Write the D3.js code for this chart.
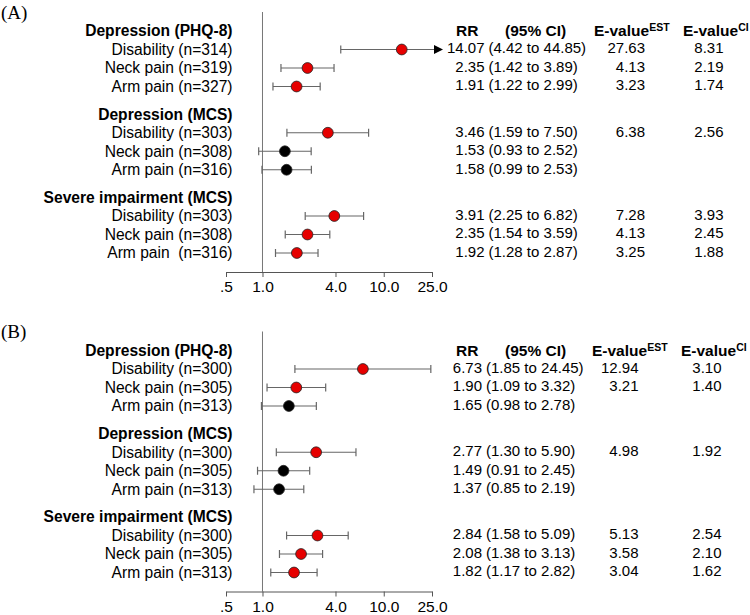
<!DOCTYPE html>
<html><head><meta charset="utf-8">
<script src="https://cdn.jsdelivr.net/npm/d3@7"></script>
<style>
html,body{margin:0;padding:0;background:#fff;}
text{font-family:"Liberation Sans",Arial,sans-serif;fill:#000;}
</style></head>
<body><svg id="chart" width="750" height="615"></svg>
<script>
// ---- data ----
const panelLabels = ["(A)", "(B)"];
const groups = ["Depression (PHQ-8)", "Depression (MCS)", "Severe impairment (MCS)"];
const outcomeLabelsA = ["Disability (n=314)", "Neck pain (n=319)", "Arm pain (n=327)",
  "Disability (n=303)", "Neck pain (n=308)", "Arm pain (n=316)",
  "Disability (n=303)", "Neck pain (n=308)", "Arm pain  (n=316)"];
const outcomeLabelsB = ["Disability (n=300)", "Neck pain (n=305)", "Arm pain (n=313)",
  "Disability (n=300)", "Neck pain (n=305)", "Arm pain (n=313)",
  "Disability (n=300)", "Neck pain (n=305)", "Arm pain (n=313)"];
const rrA = [14.07, 2.35, 1.91, 3.46, 1.53, 1.58, 3.91, 2.35, 1.92];
const loA = [4.42, 1.42, 1.22, 1.59, 0.93, 0.99, 2.25, 1.54, 1.28];
const hiA = [44.85, 3.89, 2.99, 7.50, 2.52, 2.53, 6.82, 3.59, 2.87];
const eEstA = ["27.63", "4.13", "3.23", "6.38", "", "", "7.28", "4.13", "3.25"];
const eCiA = ["8.31", "2.19", "1.74", "2.56", "", "", "3.93", "2.45", "1.88"];
const rrB = [6.73, 1.90, 1.65, 2.77, 1.49, 1.37, 2.84, 2.08, 1.82];
const loB = [1.85, 1.09, 0.98, 1.30, 0.91, 0.85, 1.58, 1.38, 1.17];
const hiB = [24.45, 3.32, 2.78, 5.90, 2.45, 2.19, 5.09, 3.13, 2.82];
const eEstB = ["12.94", "3.21", "", "4.98", "", "", "5.13", "3.58", "3.04"];
const eCiB = ["3.10", "1.40", "", "1.92", "", "", "2.54", "2.10", "1.62"];
const tickValues = [0.5, 1, 4, 10, 25];
const tickLabels = [".5", "1.0", "4.0", "10.0", "25.0"];

// ---- layout ----
const svg = d3.select("#chart");
const x = d3.scaleLog().domain([0.5, 25]).range([226, 432]);
const fmt = v => v.toFixed(2);
const panels = [
  {label: panelLabels[0], labels: outcomeLabelsA, rr: rrA, lo: loA, hi: hiA, eEst: eEstA, eCi: eCiA, off: 0,
   col: {rrEnd: 484.5, ciStart: 488.5, estEnd: 645, ciEnd: 723.5, hRR: 456, hCI: 505, hEst: 594, hECI: 683}},
  {label: panelLabels[1], labels: outcomeLabelsB, rr: rrB, lo: loB, hi: hiB, eEst: eEstB, eCi: eCiB, off: 319.5,
   col: {rrEnd: 482, ciStart: 486, estEnd: 638.5, ciEnd: 721.5, hRR: 456, hCI: 505, hEst: 592, hECI: 681}}
];
// slot positions: header, 3 rows, gap, header, ...
const headerSlots = [0, 4.5, 9];
const rowSlots = [1, 2, 3, 5.5, 6.5, 7.5, 10, 11, 12];

panels.forEach(p => {
  const g = svg.append("g");
  const y = d3.scaleLinear().domain([0, 12]).range([31 + p.off, 253 + p.off]);

  g.append("text").attr("x", 1).attr("y", 12 + p.off).attr("dy", "0.35em")
    .style("font-family", "'Liberation Serif','Times New Roman',serif").style("font-size", "19px")
    .text(p.label);

  // reference line at 1
  g.append("line").attr("x1", x(1)).attr("x2", x(1))
    .attr("y1", 12 + p.off).attr("y2", 272 + p.off)
    .attr("stroke", "#777").attr("stroke-width", 1);

  // axis
  const axis = d3.axisBottom(x).tickValues(tickValues)
    .tickFormat((d, i) => tickLabels[i]).tickSizeOuter(0).tickSizeInner(5).tickPadding(4);
  const ag = g.append("g").attr("transform", `translate(0,${272 + p.off})`).call(axis);
  ag.select(".domain").attr("stroke", "#555");
  ag.selectAll(".tick line").attr("stroke", "#555");
  ag.selectAll(".tick text").style("font-size", "15.5px").style("font-family", "'Liberation Sans',Arial,sans-serif").attr("fill", "#000");

  // group headers
  g.selectAll(".gh").data(groups).join("text")
    .attr("x", 232.5).attr("y", (d, i) => y(headerSlots[i])).attr("dy", "0.35em")
    .attr("text-anchor", "end").style("font-size", "15.6px").style("font-weight", "bold")
    .text(d => d);

  // row labels
  g.selectAll(".rl").data(p.labels).join("text")
    .attr("x", 232.5).attr("y", (d, i) => y(rowSlots[i])).attr("dy", "0.35em")
    .attr("text-anchor", "end").style("font-size", "15.6px").style("white-space", "pre")
    .attr("xml:space", "preserve")
    .text(d => d);

  // CIs
  const capMax = x(25) + 2;
  p.rr.forEach((r, i) => {
    const yy = y(rowSlots[i]);
    const x1 = x(p.lo[i]);
    const over = p.hi[i] > 25;
    const x2 = over ? capMax : x(p.hi[i]);
    g.append("line").attr("x1", x1).attr("x2", x2).attr("y1", yy).attr("y2", yy)
      .attr("stroke", "#666").attr("stroke-width", 1.2);
    g.append("line").attr("x1", x1).attr("x2", x1).attr("y1", yy - 4).attr("y2", yy + 4)
      .attr("stroke", "#666").attr("stroke-width", 1.2);
    if (over) {
      g.append("path").attr("d", `M${x2},${yy - 4.5}L${x2 + 9},${yy}L${x2},${yy + 4.5}Z`).attr("fill", "#000");
    } else {
      g.append("line").attr("x1", x2).attr("x2", x2).attr("y1", yy - 4).attr("y2", yy + 4)
        .attr("stroke", "#666").attr("stroke-width", 1.2);
    }
    g.append("circle").attr("cx", x(r)).attr("cy", yy).attr("r", 5.4)
      .attr("fill", p.lo[i] > 1 ? "#e60000" : "#000")
      .attr("stroke", "#222").attr("stroke-width", 0.8);
  });

  // column headers
  const hy = y(0);
  const c = p.col;
  const hdr = (xx, t) => g.append("text").attr("x", xx).attr("y", hy).attr("dy", "0.35em")
    .style("font-size", "15.5px").style("font-weight", "bold").text(t);
  hdr(c.hRR, "RR");
  hdr(c.hCI, "(95% CI)");
  [[c.hEst, "EST"], [c.hECI, "CI"]].forEach(([xx, sup]) => {
    const t = g.append("text").attr("x", xx).attr("y", hy).attr("dy", "0.35em")
      .style("font-size", "15.5px").style("font-weight", "bold");
    t.append("tspan").text("E-value");
    t.append("tspan").attr("dy", "-5").style("font-size", "10.5px").text(sup);
  });

  // value rows
  p.rr.forEach((r, i) => {
    const yy = y(rowSlots[i]) - 1.5;
    g.append("text").attr("x", c.rrEnd).attr("y", yy).attr("dy", "0.35em").attr("text-anchor", "end")
      .style("font-size", "15px").text(fmt(r));
    g.append("text").attr("x", c.ciStart).attr("y", yy).attr("dy", "0.35em")
      .style("font-size", "15px").text(`(${fmt(p.lo[i])} to ${fmt(p.hi[i])})`);
    if (p.eEst[i]) g.append("text").attr("x", c.estEnd).attr("y", yy).attr("dy", "0.35em").attr("text-anchor", "end")
      .style("font-size", "15px").text(p.eEst[i]);
    if (p.eCi[i]) g.append("text").attr("x", c.ciEnd).attr("y", yy).attr("dy", "0.35em").attr("text-anchor", "end")
      .style("font-size", "15px").text(p.eCi[i]);
  });
});
</script></body></html>
